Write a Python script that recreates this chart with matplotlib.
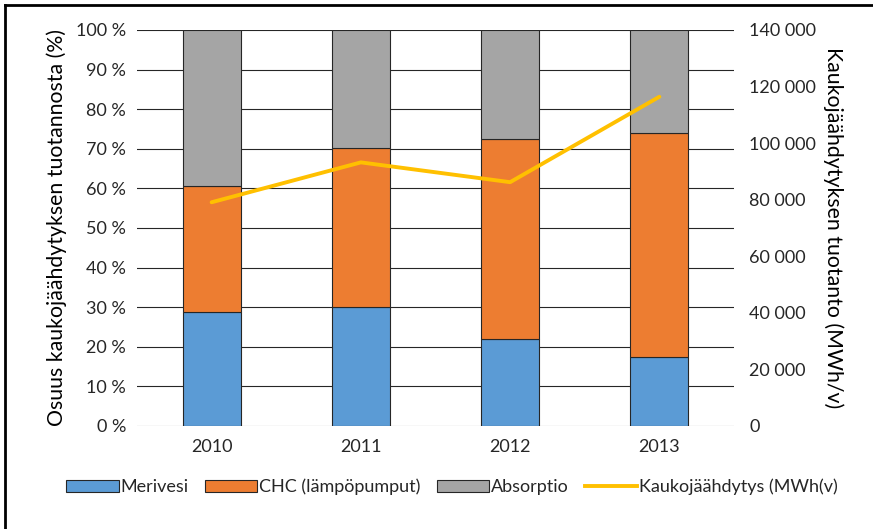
import matplotlib
matplotlib.use("Agg")
import matplotlib.pyplot as plt
from matplotlib.patches import Patch
from matplotlib.lines import Line2D
from matplotlib.ticker import FuncFormatter

plt.rcParams['font.family'] = ['Lato', 'DejaVu Sans']

years = ['2010', '2011', '2012', '2013']
merivesi = [28.8, 30.0, 21.9, 17.5]          # % share
chc = [31.9, 40.2, 50.6, 56.6]               # % share
absorptio = [39.3, 29.8, 27.5, 25.9]         # % share
kaukojaahdytys = [79100, 93200, 86200, 116400]  # MWh/v

c_blue = '#5B9BD5'
c_orange = '#ED7D31'
c_gray = '#A5A5A5'
c_yellow = '#FFC000'
txt = '#262626'

fig = plt.figure(figsize=(8.73, 5.29), dpi=100)
ax = fig.add_axes([137/873, 1 - 426/529, (734 - 137)/873, (426 - 30)/529])

x = range(len(years))
w = 0.39
edge = dict(edgecolor='#262626', linewidth=0.8)
ax.bar(x, merivesi, w, color=c_blue, zorder=3, **edge)
bottom2 = [a for a in merivesi]
ax.bar(x, chc, w, bottom=bottom2, color=c_orange, zorder=3, **edge)
bottom3 = [a + b for a, b in zip(merivesi, chc)]
ax.bar(x, absorptio, w, bottom=bottom3, color=c_gray, zorder=3, **edge)

ax.set_xlim(-0.5, len(years) - 0.5)
ax.set_ylim(0, 100)
ax.set_yticks(range(0, 101, 10))
ax.yaxis.set_major_formatter(FuncFormatter(lambda v, p: f"{int(v)} %"))
ax.set_xticks(list(x))
ax.set_xticklabels(years)
ax.tick_params(length=0, labelsize=13, colors=txt, pad=8)
ax.tick_params(axis='x', pad=9)
for s in ax.spines.values():
    s.set_visible(False)
for yv in range(10, 101, 10):
    ax.axhline(yv, color='#262626', lw=0.8, zorder=1)
ax.axhline(0, color='#D9D9D9', lw=1.0, zorder=1)
ax.set_ylabel('Osuus kaukojäähdytyksen tuotannosta (%)', fontsize=15.3,
              color='black', labelpad=6)

ax2 = ax.twinx()
ax2.plot(list(x), kaukojaahdytys, color=c_yellow, lw=2.8, solid_capstyle='round',
         zorder=5)
ax2.set_ylim(0, 140000)
ax2.set_yticks(range(0, 140001, 20000))
ax2.yaxis.set_major_formatter(
    FuncFormatter(lambda v, p: f"{int(v):,}".replace(',', ' ')))
ax2.tick_params(length=0, labelsize=13, colors=txt, pad=11)
for s in ax2.spines.values():
    s.set_visible(False)
ax2.set_ylabel('Kaukojäähdytyksen tuotanto (MWh/v)', fontsize=15.3,
               color='black', rotation=-90, labelpad=20)

handles = [
    Patch(facecolor=c_blue, edgecolor='#262626', linewidth=0.8, label='Merivesi'),
    Patch(facecolor=c_orange, edgecolor='#262626', linewidth=0.8,
          label='CHC (lämpöpumput)'),
    Patch(facecolor=c_gray, edgecolor='#262626', linewidth=0.8, label='Absorptio'),
    Line2D([0], [0], color=c_yellow, lw=2.8, label='Kaukojäähdytys (MWh(v)'),
]
fig.legend(handles=handles, loc='center', bbox_to_anchor=(452/873, 1 - 487/529),
           ncol=4, frameon=False, fontsize=13, handlelength=2.9,
           handleheight=0.7, handletextpad=0.1, columnspacing=0.9,
           labelcolor=txt)

# outer frame (top and left edges)
fig.add_artist(Line2D([5/873, 1.0], [1 - 5/529, 1 - 5/529], color='black',
                      lw=2, transform=fig.transFigure))
fig.add_artist(Line2D([5/873, 5/873], [0, 1 - 5/529], color='black',
                      lw=2, transform=fig.transFigure))

fig.savefig('out.png', dpi=100)
